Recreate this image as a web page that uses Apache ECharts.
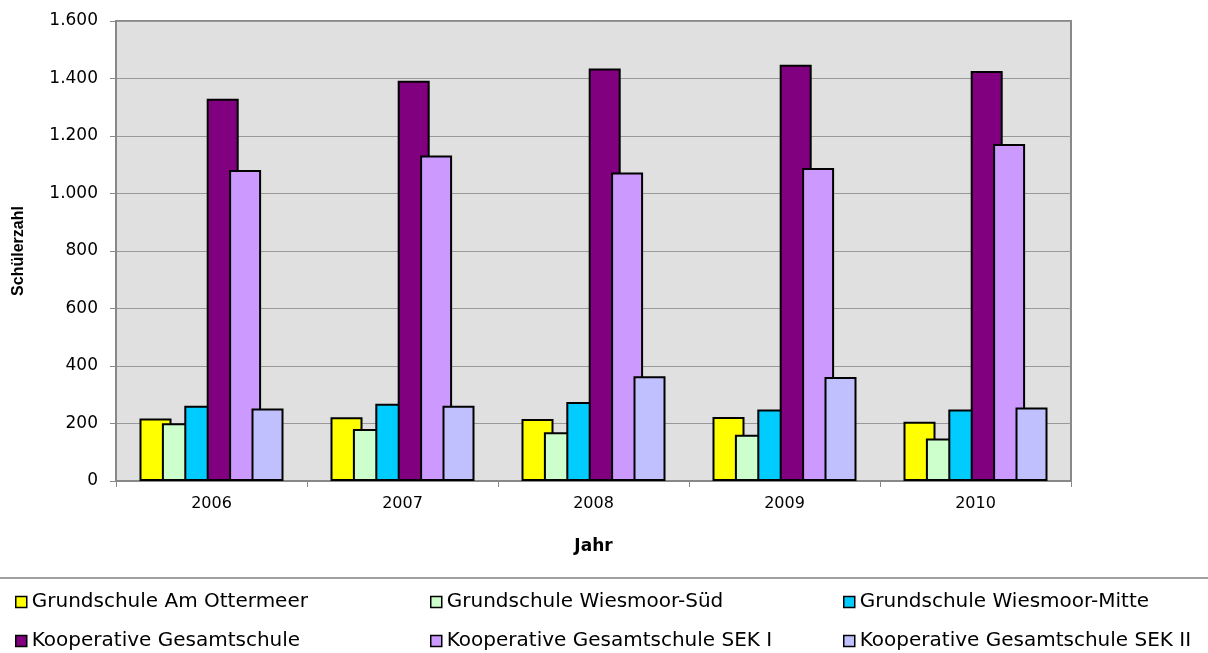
<!DOCTYPE html>
<html>
<head>
<meta charset="utf-8">
<script src="https://cdn.jsdelivr.net/npm/echarts@6/dist/echarts.min.js"></script>
<style>
  html, body { margin: 0; padding: 0; background: #fff; }
  #chart { width: 1208px; height: 653px; }
</style>
</head>
<body>
<div id="chart"></div>
<script>
const years = ['2006', '2007', '2008', '2009', '2010']
const seriesNames = [
  'Grundschule Am Ottermeer',
  'Grundschule Wiesmoor-Süd',
  'Grundschule Wiesmoor-Mitte',
  'Kooperative Gesamtschule',
  'Kooperative Gesamtschule SEK I',
  'Kooperative Gesamtschule SEK II',
]
const ottermeer = [217, 222, 216, 223, 206]
const wiesmoorSued = [201, 181, 170, 161, 148]
const wiesmoorMitte = [262, 269, 275, 249, 249]
const kgs = [1330, 1392, 1435, 1448, 1426]
const kgsSek1 = [1082, 1132, 1073, 1089, 1172]
const kgsSek2 = [252, 262, 364, 362, 256]
const colors = ['#ffff00', '#ccffcc', '#00ccff', '#800080', '#cc99ff', '#c0c0ff']

const values = [ottermeer, wiesmoorSued, wiesmoorMitte, kgs, kgsSek1, kgsSek2]
const font = 'DejaVu Sans'

const chart = echarts.init(document.getElementById('chart'))

// one legend per entry, 3 columns x 2 rows
const legendCols = [15, 430, 843]
const legendRows = [592, 631]
const legends = seriesNames.map((name, i) => ({
  left: legendCols[i % 3],
  top: legendRows[Math.floor(i / 3)],
  padding: 0,
  itemWidth: 11,
  itemHeight: 11,
  icon: 'rect',
  data: [name],
  selectedMode: false,
  itemStyle: { borderColor: '#000', borderWidth: 1.5 },
  textStyle: { fontFamily: font, fontSize: 20, color: '#000', padding: [0, 0, 0, 0] },
}))

chart.setOption({
  animation: false,
  color: colors,
  grid: {
    left: 116, right: 137, top: 21, bottom: 172,
    show: true,
    backgroundColor: '#e0e0e0',
    borderColor: '#888',
    borderWidth: 2,
  },
  legend: legends,
  graphic: [{
    type: 'line',
    shape: { x1: 0, y1: 578, x2: 1208, y2: 578 },
    style: { stroke: '#a0a0a0', lineWidth: 2 },
  }],
  xAxis: {
    type: 'category',
    data: years,
    name: 'Jahr',
    nameLocation: 'middle',
    nameGap: 57,
    nameTextStyle: { fontFamily: font, fontSize: 17, fontWeight: 'bold', color: '#000' },
    axisLine: { lineStyle: { color: '#888', width: 2 } },
    axisTick: { show: true, length: 6, lineStyle: { color: '#888' } },
    axisLabel: { fontFamily: font, fontSize: 16, color: '#000', margin: 15 },
  },
  yAxis: {
    type: 'value',
    min: 0,
    max: 1600,
    interval: 200,
    name: 'Schülerzahl',
    nameLocation: 'middle',
    nameGap: 89,
    nameTextStyle: { fontFamily: 'Liberation Sans', fontSize: 16, fontWeight: 'bold', color: '#000' },
    axisLine: { show: true, lineStyle: { color: '#888', width: 2 } },
    axisTick: { show: true, length: 6, lineStyle: { color: '#888' } },
    axisLabel: {
      fontFamily: font, fontSize: 17, color: '#000', margin: 18,
      formatter: (v) => v.toString().replace(/\B(?=(\d{3})+(?!\d))/g, '.'),
    },
    splitLine: { lineStyle: { color: '#999', width: 1 } },
  },
  series: seriesNames.map((name, i) => ({
    name,
    type: 'bar',
    data: values[i],
    barWidth: 32,
    barGap: '-30%',
    itemStyle: { color: colors[i], borderColor: '#000', borderWidth: 2 },
  })),
})
</script>
</body>
</html>
